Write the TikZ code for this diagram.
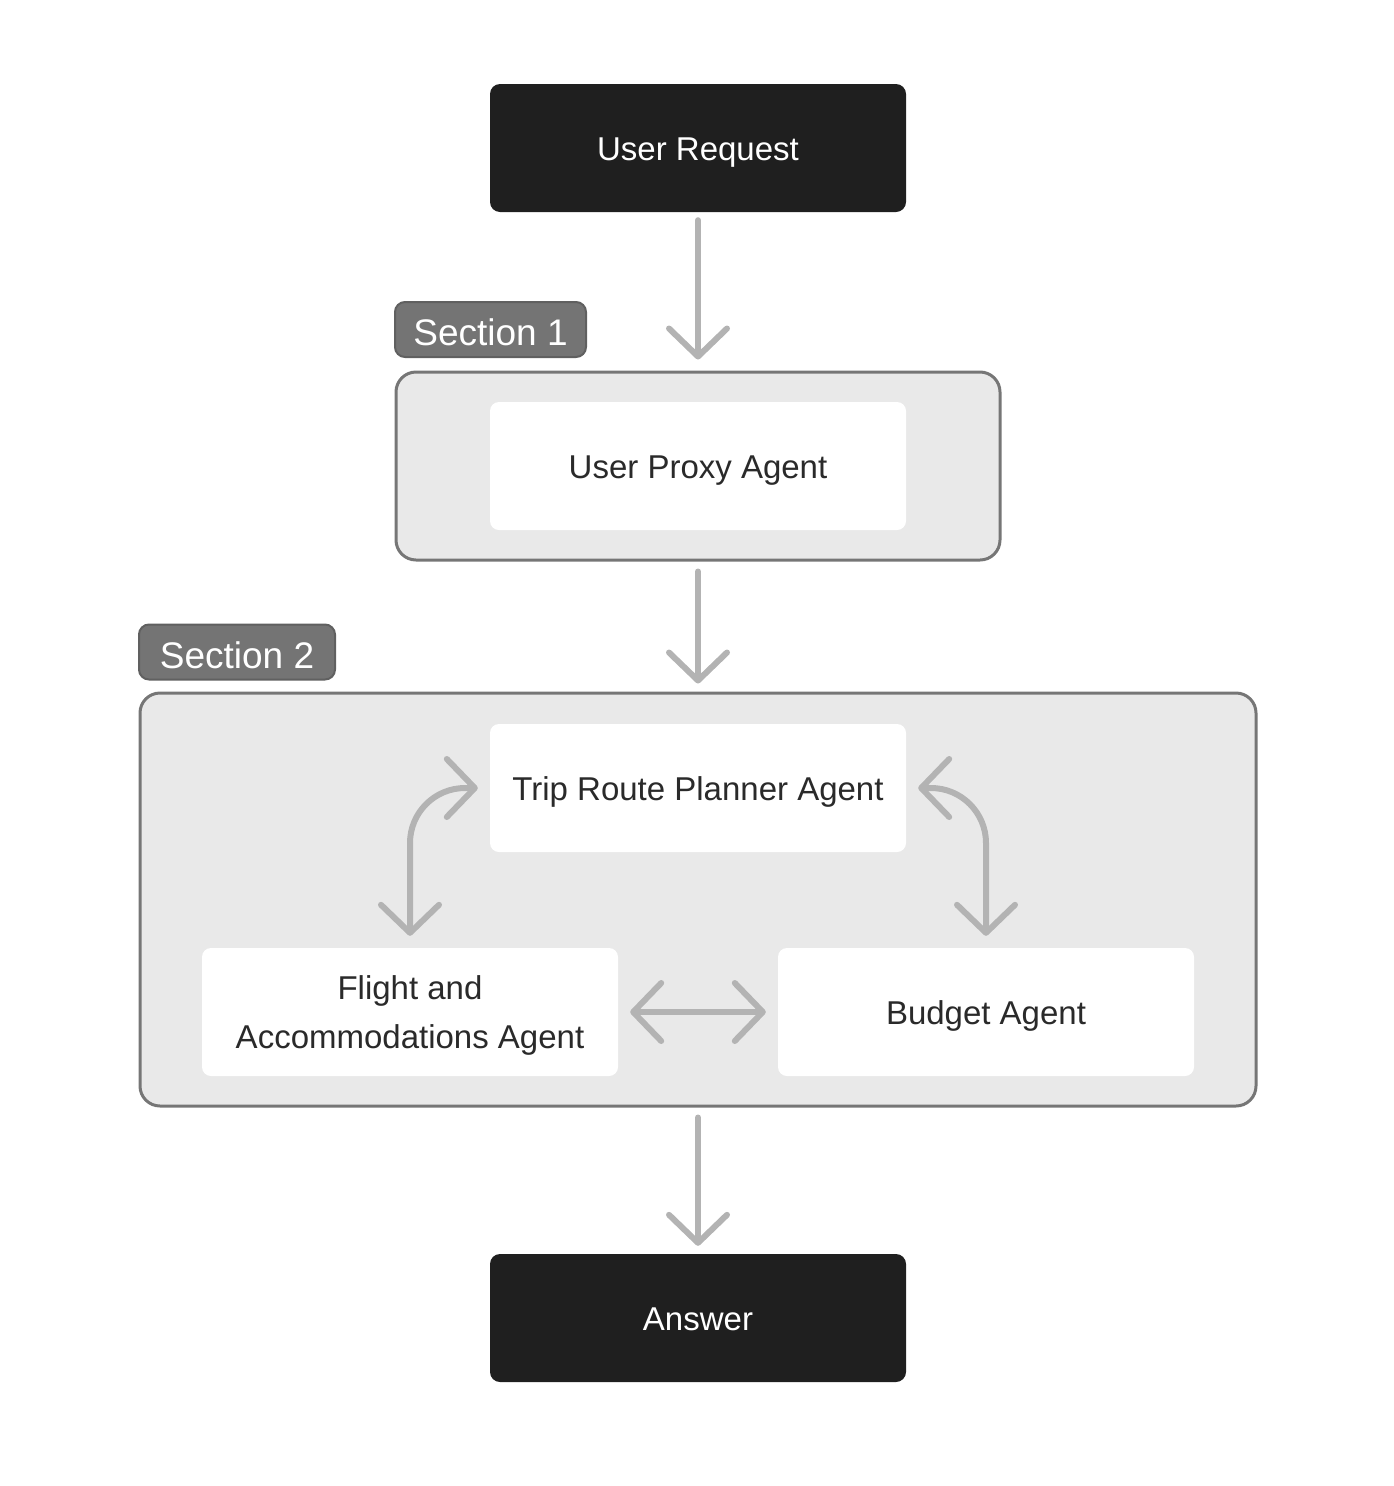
\documentclass[tikz,border=0pt]{standalone}
\usepackage{fontspec}
\setmainfont{Liberation Sans}
\usetikzlibrary{arrows.meta,positioning}
\definecolor{darkbox}{HTML}{1F1F1F}
\definecolor{arrowgrey}{HTML}{B3B3B3}
\definecolor{secfill}{HTML}{E9E9E9}
\definecolor{secborder}{HTML}{767676}
\definecolor{labfill}{HTML}{747474}
\definecolor{labborder}{HTML}{606060}
\definecolor{txtdark}{HTML}{2A2A2A}
\tikzset{
  darknode/.style={fill=darkbox, rounded corners=10pt, minimum width=416pt, minimum height=128pt,
    text=white, font=\fontsize{33}{40}\selectfont, inner sep=0pt, text height=24pt, text depth=0pt},
  agentnode/.style={fill=white, rounded corners=9pt, minimum width=416pt, minimum height=128pt,
    text=txtdark, font=\fontsize{33}{49}\selectfont, align=center, inner sep=0pt,
    text height=24pt, text depth=0pt},
  secbox/.style={fill=secfill, draw=secborder, line width=3pt, rounded corners=20pt, inner sep=0pt},
  seclabel/.style={fill=labfill, draw=labborder, line width=2pt, rounded corners=10pt, minimum height=55pt,
    text=white, font=\fontsize{37}{40}\selectfont, inner sep=0pt, text height=32pt, text depth=0pt},
  flow/.style={draw=arrowgrey, line width=6pt, line cap=round,
    arrows={-Straight Barb[length=28pt, width=58pt, round]}},
  flowboth/.style={draw=arrowgrey, line width=6pt, line cap=round,
    arrows={Straight Barb[length=28pt, width=58pt, round]-Straight Barb[length=28pt, width=58pt, round]}}
}
\begin{document}
\begin{tikzpicture}[x=1pt, y=-1pt]
\useasboundingbox (0,0) rectangle (1393,1486);
% sections
\node[secbox, minimum width=604pt, minimum height=188pt] (s1) at (698,466) {};
\node[secbox, minimum width=1116pt, minimum height=413pt] (s2) at (698,899.5) {};
\node[seclabel, minimum width=191pt] (l1) at (490.5,329.5) {Section 1};
\node[seclabel, minimum width=196pt] (l2) at (237,652) {Section 2};
% nodes
\node[darknode] (ur) at (698,148) {User Request};
\node[agentnode] (up) at (698,466) {User Proxy Agent};
\node[agentnode] (tr) at (698,788) {Trip Route Planner Agent};
\node[agentnode, text height=73pt, text depth=0pt] (fl) at (410,1012) {Flight and\\Accommodations Agent};
\node[agentnode] (bu) at (986,1012) {Budget Agent};
\node[darknode] (an) at (698,1318) {Answer};
% connectors
\draw[flow, shorten <=8pt, shorten >=11pt] (ur.south) -- (s1.north);
\draw[flow, shorten <=10pt, shorten >=8pt] (s1.south) -- (s2.north);
\draw[flow, shorten <=10pt, shorten >=8pt] (s2.south) -- (an.north);
\draw[flowboth, rounded corners=55pt] ([xshift=-12pt]tr.west) -| ([yshift=12pt]fl.north);
\draw[flowboth, rounded corners=55pt] ([xshift=12pt]tr.east) -| ([yshift=12pt]bu.north);
\draw[flowboth] ([xshift=12pt]fl.east) -- ([xshift=-12pt]bu.west);
\end{tikzpicture}
\end{document}
